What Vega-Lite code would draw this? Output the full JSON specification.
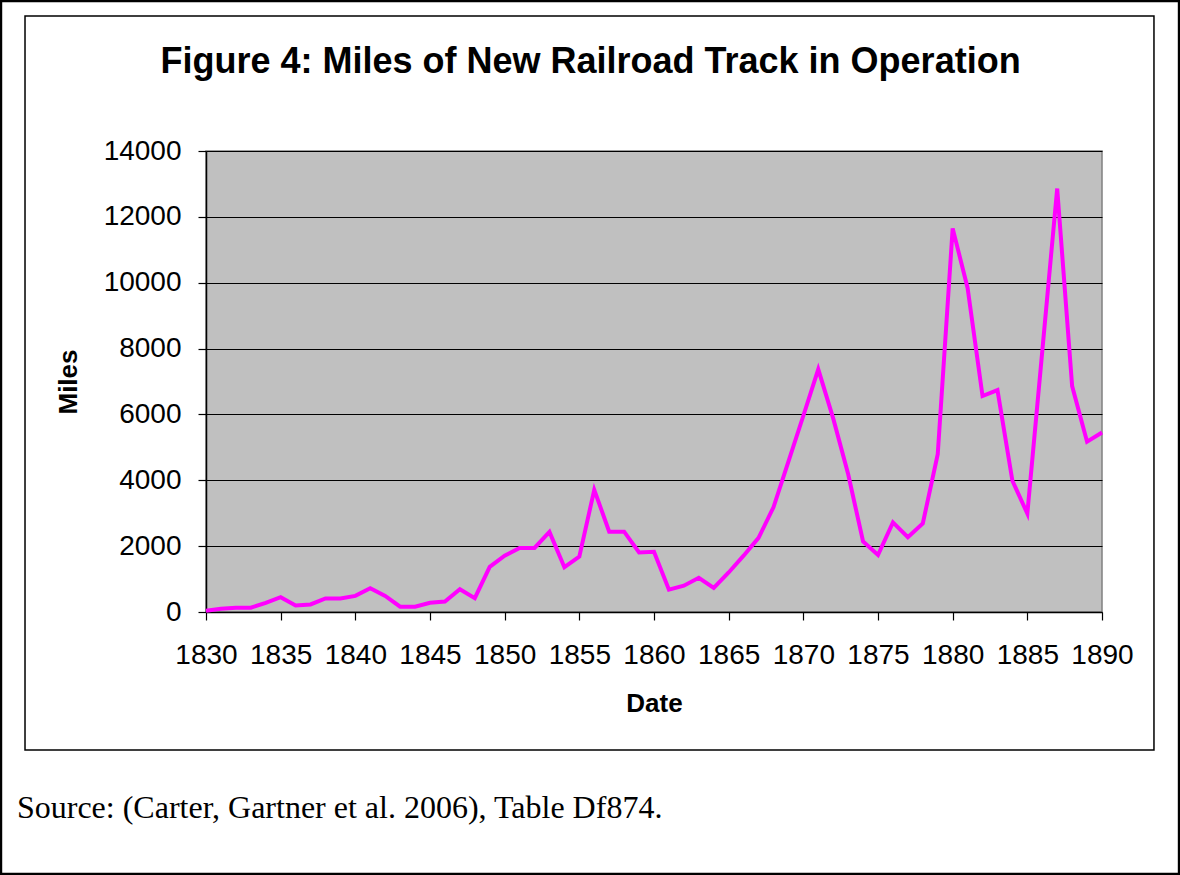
{
  "$schema": "https://vega.github.io/schema/vega-lite/v6.json",
  "autosize": {"type": "none"},
  "width": 896,
  "height": 461,
  "padding": {"left": 206, "top": 151, "right": 78, "bottom": 263},
  "background": "white",
  "config": {
    "view": {"fill": "#C0C0C0", "stroke": "#808080", "strokeWidth": 1.5},
    "axis": {
      "labelFont": "Liberation Sans",
      "labelFontSize": 28,
      "labelColor": "black",
      "titleFont": "Liberation Sans",
      "titleFontSize": 26,
      "titleFontWeight": "bold",
      "titleColor": "black",
      "domainColor": "black",
      "domainWidth": 1.5,
      "tickColor": "black",
      "tickWidth": 1.2,
      "tickSize": 8
    }
  },
  "datasets": {
    "rail": [
      {"year": 1830, "miles": 40}, {"year": 1831, "miles": 100}, {"year": 1832, "miles": 130},
      {"year": 1833, "miles": 130}, {"year": 1834, "miles": 280}, {"year": 1835, "miles": 450},
      {"year": 1836, "miles": 200}, {"year": 1837, "miles": 230}, {"year": 1838, "miles": 410},
      {"year": 1839, "miles": 410}, {"year": 1840, "miles": 490}, {"year": 1841, "miles": 720},
      {"year": 1842, "miles": 490}, {"year": 1843, "miles": 160}, {"year": 1844, "miles": 160},
      {"year": 1845, "miles": 280}, {"year": 1846, "miles": 320}, {"year": 1847, "miles": 690},
      {"year": 1848, "miles": 420}, {"year": 1849, "miles": 1370}, {"year": 1850, "miles": 1710},
      {"year": 1851, "miles": 1945}, {"year": 1852, "miles": 1945}, {"year": 1853, "miles": 2430},
      {"year": 1854, "miles": 1360}, {"year": 1855, "miles": 1680}, {"year": 1856, "miles": 3710},
      {"year": 1857, "miles": 2440}, {"year": 1858, "miles": 2440}, {"year": 1859, "miles": 1810},
      {"year": 1860, "miles": 1830}, {"year": 1861, "miles": 680}, {"year": 1862, "miles": 800},
      {"year": 1863, "miles": 1040}, {"year": 1864, "miles": 730}, {"year": 1865, "miles": 1200},
      {"year": 1866, "miles": 1710}, {"year": 1867, "miles": 2250}, {"year": 1868, "miles": 3180},
      {"year": 1869, "miles": 4570}, {"year": 1870, "miles": 5960}, {"year": 1871, "miles": 7370},
      {"year": 1872, "miles": 5880}, {"year": 1873, "miles": 4190}, {"year": 1874, "miles": 2140},
      {"year": 1875, "miles": 1730}, {"year": 1876, "miles": 2720}, {"year": 1877, "miles": 2270},
      {"year": 1878, "miles": 2690}, {"year": 1879, "miles": 4790}, {"year": 1880, "miles": 11650},
      {"year": 1881, "miles": 9840}, {"year": 1882, "miles": 6560}, {"year": 1883, "miles": 6740},
      {"year": 1884, "miles": 3985}, {"year": 1885, "miles": 2990}, {"year": 1886, "miles": 7920},
      {"year": 1887, "miles": 12860}, {"year": 1888, "miles": 6860}, {"year": 1889, "miles": 5170},
      {"year": 1890, "miles": 5450}
    ],
    "note": [
      {"label": "Source: (Carter, Gartner et al. 2006), Table Df874."}
    ],
    "heading": [
      {"label": "Figure 4: Miles of New Railroad Track in Operation"}
    ]
  },
  "layer": [
    {
      "data": {"name": "rail"},
      "mark": {"type": "line", "color": "#FF00FF", "strokeWidth": 4, "strokeJoin": "miter"},
      "encoding": {
        "x": {
          "field": "year", "type": "quantitative",
          "scale": {"domain": [1830, 1890], "nice": false, "zero": false},
          "axis": {
            "title": "Date",
            "values": [1830, 1835, 1840, 1845, 1850, 1855, 1860, 1865, 1870, 1875, 1880, 1885, 1890],
            "format": "d",
            "grid": false,
            "labelPadding": 21,
            "titlePadding": 21,
            "labelFlush": false,
            "labelOverlap": false
          }
        },
        "y": {
          "field": "miles", "type": "quantitative",
          "scale": {"domain": [0, 14000], "nice": false},
          "axis": {
            "title": "Miles",
            "values": [0, 2000, 4000, 6000, 8000, 10000, 12000, 14000],
            "format": "d",
            "grid": true,
            "gridColor": "black",
            "gridWidth": 1,
            "gridOpacity": 1,
            "labelPadding": 17,
            "titlePadding": 22,
            "labelFlush": false,
            "labelOverlap": false
          }
        }
      }
    },
    {
      "data": {"name": "note"},
      "mark": {"type": "rect", "fill": null, "stroke": "black", "strokeWidth": 1.5, "clip": false},
      "encoding": {
        "x": {"datum": 1817.88, "type": "quantitative", "scale": {"domain": [1830, 1890], "nice": false, "zero": false}},
        "x2": {"datum": 1893.48},
        "y": {"datum": 18100, "type": "quantitative", "scale": {"domain": [0, 14000], "nice": false}},
        "y2": {"datum": -4191}
      }
    },
    {
      "data": {"name": "note"},
      "mark": {"type": "rect", "fill": null, "stroke": "black", "strokeWidth": 2.5, "clip": false},
      "encoding": {
        "x": {"datum": 1816.27, "type": "quantitative", "scale": {"domain": [1830, 1890], "nice": false, "zero": false}},
        "x2": {"datum": 1895.16},
        "y": {"datum": 18555, "type": "quantitative", "scale": {"domain": [0, 14000], "nice": false}},
        "y2": {"datum": -7956}
      }
    },
    {
      "data": {"name": "heading"},
      "mark": {"type": "text", "font": "Liberation Sans", "fontSize": 36, "fontWeight": "bold", "color": "black", "align": "center", "baseline": "alphabetic", "clip": false},
      "encoding": {
        "x": {"datum": 1855.75, "type": "quantitative", "scale": {"domain": [1830, 1890], "nice": false, "zero": false}},
        "y": {"datum": 16368, "type": "quantitative", "scale": {"domain": [0, 14000], "nice": false}},
        "text": {"field": "label"}
      }
    },
    {
      "data": {"name": "note"},
      "mark": {"type": "text", "font": "Liberation Serif", "fontSize": 32, "color": "black", "align": "left", "baseline": "alphabetic", "clip": false},
      "encoding": {
        "x": {"datum": 1817.34, "type": "quantitative", "scale": {"domain": [1830, 1890], "nice": false, "zero": false}},
        "y": {"datum": -6255, "type": "quantitative", "scale": {"domain": [0, 14000], "nice": false}},
        "text": {"field": "label"}
      }
    }
  ]
}
